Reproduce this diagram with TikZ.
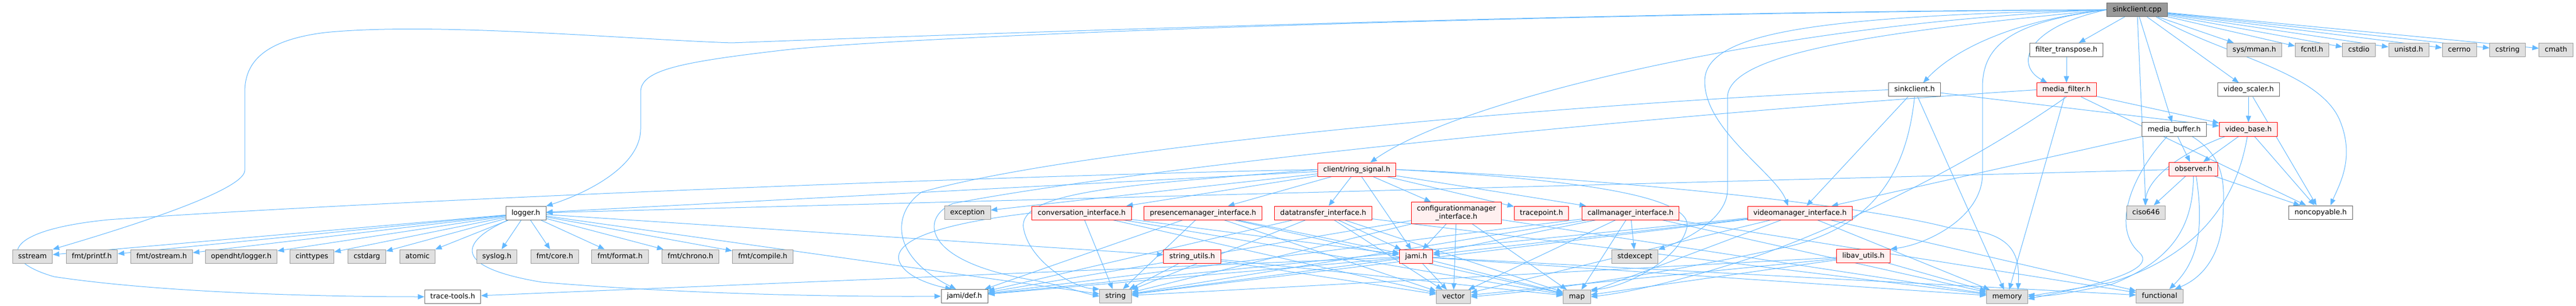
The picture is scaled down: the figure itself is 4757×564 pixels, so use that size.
\documentclass[tikz,border=0pt]{standalone}
\usepackage{fontspec}
\setmainfont{DejaVu Sans}
\usetikzlibrary{arrows.meta, backgrounds}

\definecolor{inclblue}{HTML}{63B8FF}
\definecolor{sysfill}{HTML}{E0E0E0}
\definecolor{sysline}{HTML}{999999}
\definecolor{hdrline}{HTML}{666666}
\definecolor{cutfill}{HTML}{FFF0F0}
\definecolor{cutline}{HTML}{FF0000}

\tikzset{
	hdr/.style={draw=hdrline, fill=white, line width=1pt, font=\fontsize{13.1}{15}\selectfont,
			inner xsep=10.5pt, inner ysep=0pt, minimum height=25pt, text height=9.6pt, text depth=2.6pt},
	syshdr/.style={hdr, draw=sysline, fill=sysfill},
	cuthdr/.style={hdr, draw=cutline, fill=cutfill},
	roothdr/.style={hdr, fill=sysline},
	incl/.style={draw=inclblue, line width=1pt, -{Triangle[length=12pt,width=9.5pt]}},
}

\begin{document}
\begin{tikzpicture}[x=1pt, y=-1pt]
	\useasboundingbox (0,0) rectangle (4757,564);

	\node[roothdr] (root) at (3946.5,18) {sinkclient.cpp};

	\node[hdr] (filtertr) at (3816,92) {filter\_transpose.h};
	\node[syshdr] (sysmman) at (4163,92) {sys/mman.h};
	\node[syshdr] (fcntl) at (4269.5,92) {fcntl.h};
	\node[syshdr] (cstdio) at (4356,92) {cstdio};
	\node[syshdr] (unistd) at (4448,92) {unistd.h};
	\node[syshdr] (cerrno) at (4541.5,92) {cerrno};
	\node[syshdr] (cstring) at (4630.5,92) {cstring};
	\node[syshdr] (cmath) at (4720,92) {cmath};

	\node[hdr] (sinkclienth) at (3535.5,165.5) {sinkclient.h};
	\node[cuthdr] (mediafilter) at (3816,165.5) {media\_filter.h};
	\node[hdr] (videoscaler) at (4152.5,165.5) {video\_scaler.h};

	\node[hdr] (mediabuffer) at (4015,238.5) {media\_buffer.h};
	\node[cuthdr] (videobase) at (4152,238.5) {video\_base.h};

	\node[cuthdr] (ringsignal) at (2505.5,312.5) {client/ring\_signal.h};
	\node[cuthdr] (observer) at (4050.5,311.5) {observer.h};

	\node[hdr] (logger) at (971,393) {logger.h};
	\node[syshdr] (exception) at (1786.5,392) {exception};
	\node[cuthdr] (convif) at (1997.5,392.5) {conversation\_interface.h};
	\node[cuthdr] (presenceif) at (2221.5,392.5) {presencemanager\_interface.h};
	\node[cuthdr] (transferif) at (2443.5,392.5) {datatransfer\_interface.h};
	\node[cuthdr, align=center, minimum height=40pt, text height={}, text depth={}] (configif) at (2689.5,392.5) {configurationmanager\\\_interface.h};
	\node[cuthdr] (tracepoint) at (2846.5,392.5) {tracepoint.h};
	\node[cuthdr] (callif) at (3011,392.5) {callmanager\_interface.h};
	\node[cuthdr] (videoif) at (3324,392.5) {videomanager\_interface.h};
	\node[syshdr] (ciso) at (3963,391.5) {ciso646};
	\node[hdr] (noncopyable) at (4285.5,391.5) {noncopyable.h};

	\node[syshdr] (sstream) at (60,472.5) {sstream};
	\node[syshdr] (printf) at (169.5,472.5) {fmt/printf.h};
	\node[syshdr] (ostream) at (298.5,472.5) {fmt/ostream.h};
	\node[syshdr] (dhtlogger) at (445.5,472.5) {opendht/logger.h};
	\node[syshdr] (cinttypes) at (576,472.5) {cinttypes};
	\node[syshdr] (cstdarg) at (677.5,472.5) {cstdarg};
	\node[syshdr] (atomic) at (771,472.5) {atomic};
	\node[syshdr] (syslog) at (917.5,472.5) {syslog.h};
	\node[syshdr] (fmtcore) at (1024.5,472.5) {fmt/core.h};
	\node[syshdr] (fmtformat) at (1145,472.5) {fmt/format.h};
	\node[syshdr] (fmtchrono) at (1275,472.5) {fmt/chrono.h};
	\node[syshdr] (fmtcompile) at (1408.5,472.5) {fmt/compile.h};
	\node[cuthdr] (stringutils) at (2201.5,473) {string\_utils.h};
	\node[cuthdr] (jamih) at (2615,473) {jami.h};
	\node[syshdr] (stdexcept) at (3019,473) {stdexcept};
	\node[cuthdr] (libavutils) at (3441,472) {libav\_utils.h};

	\node[hdr] (tracetools) at (836,547) {trace-tools.h};
	\node[hdr] (jamidef) at (1781,546) {jami/def.h};
	\node[syshdr] (string) at (2060,546) {string};
	\node[syshdr] (vector) at (2684,547) {vector};
	\node[syshdr] (map) at (2912,547) {map};
	\node[syshdr] (memory) at (3706.5,547) {memory};
	\node[syshdr] (functional) at (3988,546) {functional};

	\begin{scope}[on background layer]
		\foreach \t in {sysmman,fcntl,cstdio,unistd,cerrno,cstring,cmath,filtertr,videoscaler,mediabuffer,ciso}{
				\draw[incl] (root) -- (\t);
			}
		\draw[incl] (root.west) .. controls (3000,20) and (1800,62) .. (1351,79) .. controls (1150,72) and (800,40) .. (600,60) .. controls (480,75) and (452,120) .. (452,170) -- (452,314) .. controls (452,345) and (300,400) .. (sstream.north east);
		\draw[incl] (root.west) .. controls (2800,25) and (1700,65) .. (1450,92) .. controls (1250,115) and (1183,130) .. (1183,170) -- (1183,238) .. controls (1183,300) and (1100,350) .. (logger.north east);
		\draw[incl] (root.west) .. controls (3300,40) and (2700,180) .. ([xshift=25pt]ringsignal.north);
		\draw[incl] (root.west) .. controls (3350,30) and (3148,60) .. (3148,150) .. controls (3148,240) and (3280,320) .. ([xshift=-22pt]videoif.north);
		\draw[incl] (root.west) .. controls (3450,60) and (3190,100) .. (3190,180) -- (3190,350) .. controls (3190,400) and (3120,440) .. (stdexcept.north east);
		\draw[incl] (root.west) .. controls (3720,40) and (3661,80) .. (3661,160) -- (3661,320) .. controls (3661,400) and (3560,450) .. (libavutils.north east);
		\draw[incl] (root.west) .. controls (3740,50) and (3720,120) .. ([xshift=20pt]mediafilter.north west);
		\draw[incl] (root.west) .. controls (3700,40) and (3600,100) .. ([xshift=16pt]sinkclienth.north);
		\draw[incl] ([xshift=35pt]root.south) .. controls (4100,100) and (4280,130) .. (4320,220) .. controls (4350,290) and (4320,340) .. ([xshift=18pt]noncopyable.north);

		\draw[incl] (filtertr) -- (mediafilter);
		\foreach \t in {videobase,videoif,memory}{
				\draw[incl] (sinkclienth) -- (\t);
			}
		\draw[incl] (sinkclienth.west) .. controls (2900,190) and (2000,270) .. (1702,354) .. controls (1650,390) and (1640,470) .. ([xshift=28pt]jamidef.north west);
		\draw[incl] (sinkclienth.south) .. controls (3520,330) and (3450,420) .. (3300,455) .. controls (3000,520) and (2800,540) .. (vector.east);
		\foreach \t in {videobase,noncopyable,memory}{
				\draw[incl] (mediafilter) -- (\t);
			}
		\draw[incl] (mediafilter.west) .. controls (3000,215) and (2100,310) .. (1760,375) .. controls (1700,400) and (1700,480) .. (1900,515) .. controls (1960,525) and (2000,540) .. (string.west);
		\draw[incl] (mediafilter.south) .. controls (3633,307) and (3400,417) .. (3250,470) .. controls (3100,520) and (3000,540) .. (map.east);
		\foreach \t in {videobase,noncopyable}{
				\draw[incl] (videoscaler) -- (\t);
			}
		\foreach \t in {observer,videoif}{
				\draw[incl] (mediabuffer) -- (\t);
			}
		\draw[incl] ([xshift=-13pt]mediabuffer.south) .. controls (3933,327) and (3900,420) .. (3950,465) .. controls (3990,500) and (3850,530) .. ([yshift=-4pt]memory.east);
		\draw[incl] ([xshift=33pt]mediabuffer.south) .. controls (4110,290) and (4108,340) .. (4105,400) .. controls (4100,480) and (4060,515) .. ([xshift=28pt]functional.north);
		\foreach \t in {observer,noncopyable}{
				\draw[incl] (videobase) -- (\t);
			}
		\draw[incl] ([xshift=-43pt]videobase.south) .. controls (4000,293) and (3965,340) .. ([xshift=-2pt]ciso.north);
		\draw[incl] ([xshift=-2pt]videobase.south) .. controls (4130,370) and (4060,470) .. (3900,520) .. controls (3820,535) and (3780,540) .. (memory.east);
		\foreach \t in {ciso,noncopyable,logger}{
				\draw[incl] (observer) -- (\t);
			}
		\draw[incl] (observer.south) .. controls (4050,420) and (4010,480) .. (3900,524) .. controls (3820,540) and (3780,548) .. ([yshift=4pt]memory.east);
		\draw[incl] ([xshift=5pt]observer.south) .. controls (4070,420) and (4060,480) .. ([xshift=18pt]functional.north);

		\foreach \t in {convif,presenceif,transferif,configif,tracepoint,callif,jamih,exception,logger}{
				\draw[incl] (ringsignal) -- (\t);
			}
		\draw[incl] (ringsignal.east) .. controls (2900,330) and (3130,360) .. (3115,420) .. controls (3100,480) and (3000,530) .. (map.north east);
		\draw[incl] (ringsignal.east) .. controls (3000,330) and (3450,380) .. (3600,420) .. controls (3720,425) and (3730,470) .. ([xshift=20pt]memory.north);
		\draw[incl] (ringsignal.west) .. controls (2100,340) and (1880,350) .. (1890,420) .. controls (1900,480) and (1980,530) .. (string.north west);
		\draw[incl] (ringsignal.west) .. controls (1800,325) and (700,370) .. (200,405) .. controls (0,425) and (-5,480) .. (100,510) .. controls (300,540) and (600,547) .. (tracetools.west);

		\foreach \t in {sstream,printf,ostream,dhtlogger,cinttypes,cstdarg,atomic,syslog,fmtcore,fmtformat,fmtchrono,fmtcompile,stringutils,string}{
				\draw[incl] (logger) -- (\t);
			}
		\draw[incl] ([xshift=4pt]logger.south west) .. controls (860,440) and (820,490) .. (1000,520) .. controls (1300,545) and (1600,547) .. (jamidef.west);

		\draw[incl] (convif.west) .. controls (1750,410) and (1650,440) .. (1660,480) .. controls (1670,510) and (1720,525) .. ([xshift=20pt]jamidef.north west);
		\foreach \t in {string,jamih,vector,map}{
				\draw[incl] (convif) -- (\t);
			}
		\foreach \t in {jamidef,string,jamih,vector,map}{
				\draw[incl] (presenceif) -- (\t);
			}
		\foreach \s in {transferif,configif}{
				\foreach \t in {jamidef,string,jamih,vector,map,memory}{
						\draw[incl] (\s) -- (\t);
					}
			}
		\foreach \t in {jamidef,string,jamih,stdexcept,vector,map,memory,functional}{
				\draw[incl] (callif) -- (\t);
			}
		\foreach \t in {jamidef,string,jamih,vector,map,memory,functional}{
				\draw[incl] (videoif) -- (\t);
			}
		\foreach \t in {jamidef,string,vector,map,memory,functional,tracetools}{
				\draw[incl] (jamih) -- (\t);
			}
		\foreach \t in {string,vector,map,memory}{
				\draw[incl] (libavutils) -- (\t);
			}
		\foreach \t in {string,vector,map}{
				\draw[incl] (stringutils) -- (\t);
			}
	\end{scope}

\end{tikzpicture}
\end{document}
